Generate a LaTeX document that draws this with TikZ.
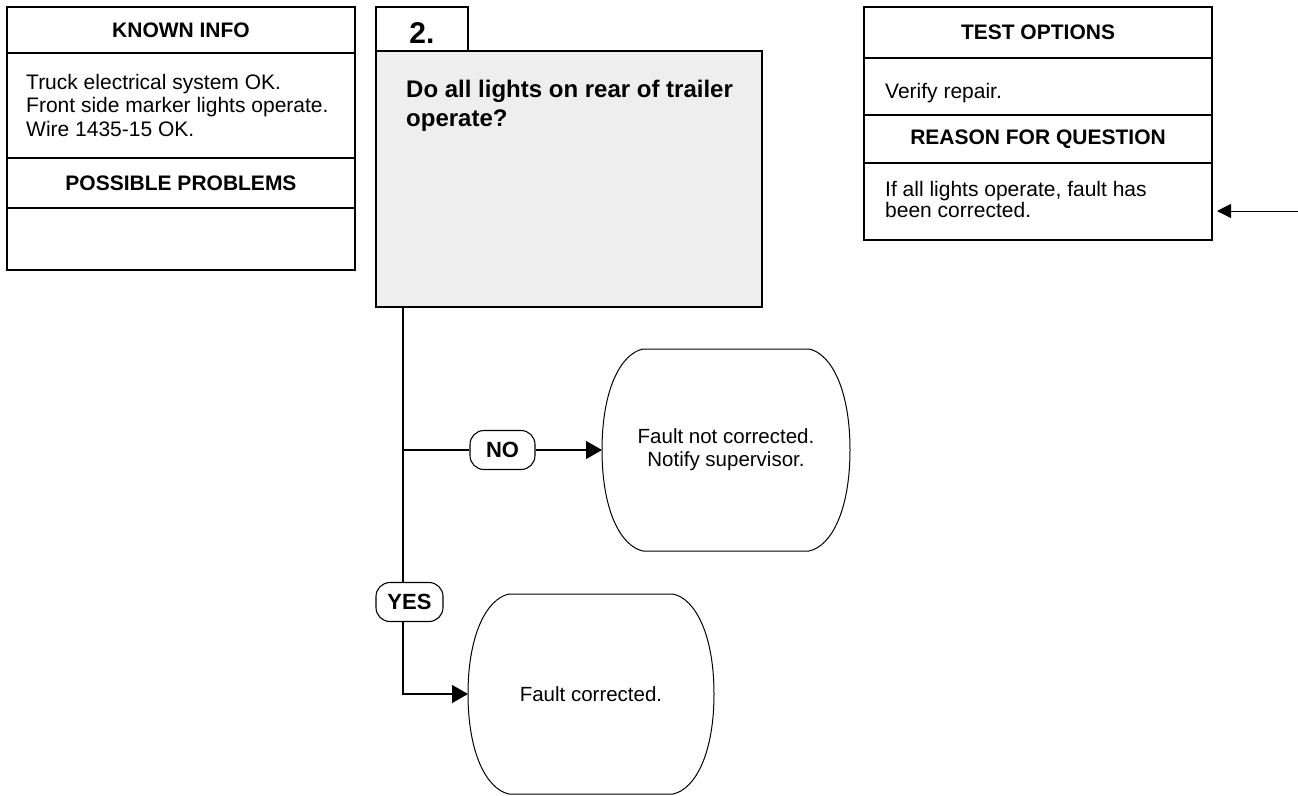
\documentclass[tikz,border=0pt]{standalone}
\usepackage{fontspec}
\setmainfont{Liberation Sans}
\usetikzlibrary{arrows.meta,calc}
\definecolor{qfill}{RGB}{238,238,238}
\newcommand\barrelshape[1]{%
  \draw[termline]
    ($(#1.north west)+(41,0)$) -- ($(#1.north east)+(-41,0)$)
    .. controls ($(#1.north east)+(-18,5)$) and ($(#1.north east)+(0,42)$) .. (#1.east)
    .. controls ($(#1.south east)+(0,-42)$) and ($(#1.south east)+(-18,-5)$) .. ($(#1.south east)+(-41,0)$)
    -- ($(#1.south west)+(41,0)$)
    .. controls ($(#1.south west)+(18,-5)$) and ($(#1.south west)+(0,-42)$) .. (#1.west)
    .. controls ($(#1.north west)+(0,42)$) and ($(#1.north west)+(18,5)$) .. cycle;}
\begin{document}
\begin{tikzpicture}[x=1pt,y=-1pt,
  cell/.style={draw,line width=1.2pt,rectangle,inner sep=0pt,outer sep=0pt,anchor=north west},
  head/.style={font=\fontsize{21}{24}\selectfont\bfseries},
  body/.style={font=\fontsize{21}{23.5}\selectfont,align=left,inner sep=0pt,anchor=north west},
  term/.style={rectangle,inner sep=0pt,outer sep=0pt,minimum width=248pt,minimum height=202pt,align=center,font=\fontsize{20.5}{23}\selectfont},
  termline/.style={draw,line width=1pt},
  lab/.style={draw,fill=white,line width=1.1pt,rounded corners=14pt,inner sep=0pt,minimum height=39pt,font=\fontsize{22}{24}\selectfont\bfseries},
  flow/.style={line width=1.1pt,-{Triangle[length=16pt,width=18pt]}},
  wire/.style={line width=1.1pt},
  inarrow/.style={line width=1pt,-{Triangle[length=14pt,width=14pt]}}
]
\useasboundingbox (0,0) rectangle (1298,795);
% known info / possible problems
\node[cell,head,minimum width=348pt,minimum height=46pt] (kih) at (7,7) {KNOWN INFO};
\node[cell,minimum width=348pt,minimum height=105pt] (kib) at (7,53) {};
\node[body] (kit) at (26,74) {Truck electrical system OK.\\Front side marker lights operate.\\Wire 1435-15 OK.};
\node[cell,head,minimum width=348pt,minimum height=50pt] (pph) at (7,158) {POSSIBLE PROBLEMS};
\node[cell,minimum width=348pt,minimum height=62pt] (ppb) at (7,208) {};
% test options / reason
\node[cell,head,minimum width=348pt,minimum height=51pt] (toh) at (864,7) {TEST OPTIONS};
\node[cell,minimum width=348pt,minimum height=57pt] (tob) at (864,58) {};
\node[font=\fontsize{21}{23.5}\selectfont,inner sep=0pt,anchor=base west] (tot) at (885,98) {Verify repair.};
\node[cell,head,minimum width=348pt,minimum height=48pt] (rfh) at (864,115) {REASON FOR QUESTION};
\node[cell,minimum width=348pt,minimum height=77pt] (rfb) at (864,163) {};
\node[body,font=\fontsize{21}{21}\selectfont] (rft) at (885,181) {If all lights operate, fault has\\been corrected.};
% question
\node[cell,minimum width=92pt,minimum height=44pt,font=\fontsize{30}{32}\selectfont\bfseries] (tab) at (376,7) {\raisebox{-14pt}[0pt][0pt]{2.}};
\node[cell,fill=qfill,minimum width=386pt,minimum height=256pt] (q) at (376,51) {};
\node[body,font=\fontsize{24}{29}\selectfont\bfseries] (qt) at (406,80) {Do all lights on rear of trailer\\operate?};
% flow
\coordinate (trunk) at ($(q.south west)+(27,0)$);
\node[term] (t1) at (726,450) {Fault not corrected.\\Notify supervisor.};
\node[term,minimum width=246pt,minimum height=200pt] (t2) at (591,694) {Fault corrected.};
\barrelshape{t1}
\barrelshape{t2}
\node[lab,minimum width=65pt] (no) at (502.5,450) {NO};
\node[lab,minimum width=67pt] (yes) at (409.5,602) {YES};
\draw[wire] (trunk) -- (yes.north -| trunk);
\draw[wire] (no.west) -- (no.west -| trunk);
\draw[flow] (no.east) -- (t1.west);
\draw[flow] (yes.south -| trunk) |- (t2.west);
% incoming arrow
\coordinate (inarr) at (1298,211);
\coordinate (tipR) at (rfb.east |- inarr);
\draw[inarrow] (inarr) -- ($(tipR)+(5,0)$);
\end{tikzpicture}
\end{document}
